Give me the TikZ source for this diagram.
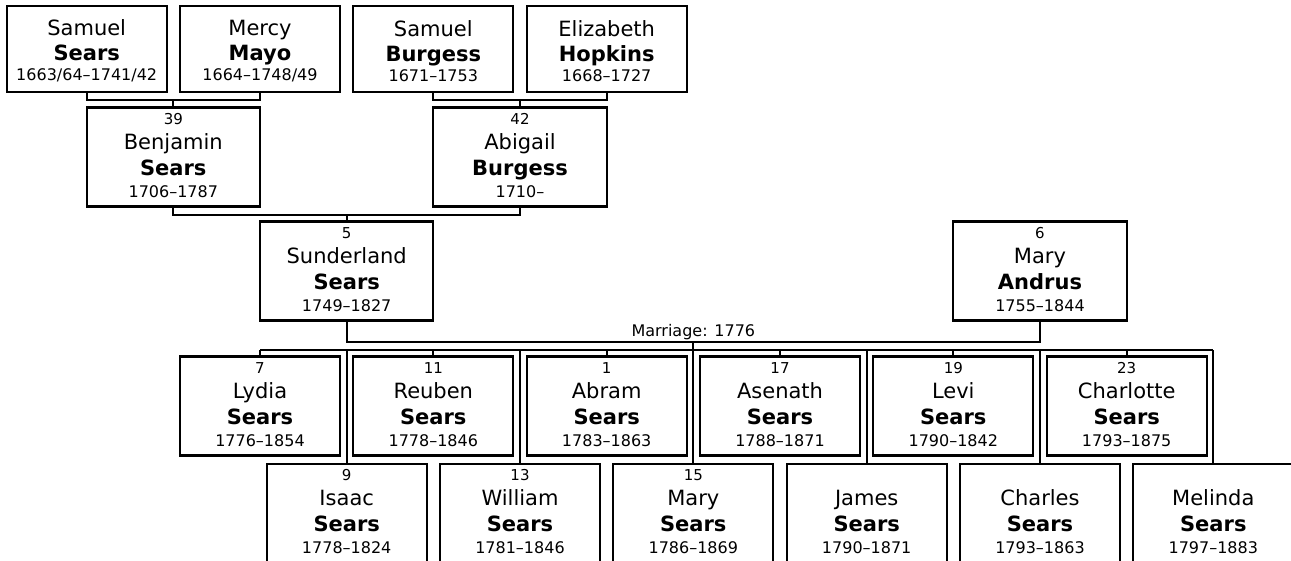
\documentclass[tikz,border=0pt]{standalone}
\usepackage{fontspec}
\setmainfont{DejaVu Sans}
\usetikzlibrary{calc}
\tikzset{
  % Two box styles for the family tree: with and without a number line
  person node/.style={draw,line width=2.2pt,inner sep=0pt,align=center,
    minimum width=160pt,minimum height=99pt,font=\fontsize{21}{25}\selectfont},
  elder node/.style={person node,minimum height=86pt},
  wide box/.style={minimum width=173.3pt},
  link/.style={line width=2.2pt},
  marriage/.style={font=\fontsize{16}{16}\selectfont,inner sep=1pt}
}
% box contents: number, first name, surname, years
\newcommand{\person}[4]{{\fontsize{15}{15}\selectfont\vphantom{0}#1}\\#2\\[1pt]\textbf{#3}\\[-3pt]{\fontsize{16}{16}\selectfont#4\rule[-4pt]{0pt}{4pt}}}
\newcommand{\elder}[3]{\rule{0pt}{20pt}#1\\\textbf{#2}\\[-5pt]{\fontsize{16}{16}\selectfont#3}}

\begin{document}
\begin{tikzpicture}[x=1pt,y=-1pt]
  \useasboundingbox (0,0) rectangle (1291,561);
  % Grandparents
  \node(ss)[elder node] at (86.7,49) {\elder{Samuel}{Sears}{1663/64–1741/42}};
  \node(mm)[elder node] at (260,49) {\elder{Mercy}{Mayo}{1664–1748/49}};
  \node(sb)[elder node] at (433.3,49) {\elder{Samuel}{Burgess}{1671–1753}};
  \node(eh)[elder node] at (606.7,49) {\elder{Elizabeth}{Hopkins}{1668–1727}};
  % Parents
  \node(39)[person node,wide box] at (173.3,157) {\person{39}{Benjamin}{Sears}{1706–1787}};
  \node(42)[person node,wide box] at (520,157) {\person{42}{Abigail}{Burgess}{1710–}};
  % The couple
  \node(5)[person node,wide box] at (346.7,271) {\person{5}{Sunderland}{Sears}{1749–1827}};
  \node(6)[person node,wide box] at (1040,271) {\person{6}{Mary}{Andrus}{1755–1844}};
  % Children, first row
  \node(7)[person node] at (260,406) {\person{7}{Lydia}{Sears}{1776–1854}};
  \node(11)[person node] at (433.3,406) {\person{11}{Reuben}{Sears}{1778–1846}};
  \node(1)[person node] at (606.7,406) {\person{1}{Abram}{Sears}{1783–1863}};
  \node(17)[person node] at (780,406) {\person{17}{Asenath}{Sears}{1788–1871}};
  \node(19)[person node] at (953.3,406) {\person{19}{Levi}{Sears}{1790–1842}};
  \node(23)[person node] at (1126.7,406) {\person{23}{Charlotte}{Sears}{1793–1875}};
  % Children, second row
  \node(9)[person node] at (346.7,513.5) {\person{9}{Isaac}{Sears}{1778–1824}};
  \node(13)[person node] at (520,513.5) {\person{13}{William}{Sears}{1781–1846}};
  \node(15)[person node] at (693.3,513.5) {\person{15}{Mary}{Sears}{1786–1869}};
  \node(james)[person node] at (866.7,513.5) {\person{}{James}{Sears}{1790–1871}};
  \node(charles)[person node] at (1040,513.5) {\person{}{Charles}{Sears}{1793–1863}};
  \node(melinda)[person node] at (1213.3,513.5) {\person{}{Melinda}{Sears}{1797–1883}};
  % Links between generations
  \draw[link] (ss.south) -- ++(0,7) coordinate(p1) -| (mm.south);
  \draw[link] (39.north) -- (39.north |- p1);
  \draw[link] (sb.south) -- ++(0,7) coordinate(p2) -| (eh.south);
  \draw[link] (42.north) -- (42.north |- p2);
  \draw[link] (39.south) -- ++(0,7.5) coordinate(p3) -| (42.south);
  \draw[link] (5.north) -- (5.north |- p3);
  % marriage and children
  \draw[link] (5.south) -- ++(0,20.2) coordinate(m) -- (m -| 6.south)
    node[midway,above,marriage]{Marriage: 1776} -- (6.south);
  \draw[link] ($(m)!.5!(m -| 6.south)$) -- ++(0,8.6) coordinate(kids);
  \draw[link] (7.north |- kids) -- (melinda.north |- kids);
  \draw[link] (7.north) -- (7.north |- kids) (11.north) -- (11.north |- kids)
    (1.north) -- (1.north |- kids) (17.north) -- (17.north |- kids)
    (19.north) -- (19.north |- kids) (23.north) -- (23.north |- kids)
    (9.north) -- (9.north |- kids) (13.north) -- (13.north |- kids)
    (15.north) -- (15.north |- kids) (james.north) -- (james.north |- kids)
    (charles.north) -- (charles.north |- kids) (melinda.north) -- (melinda.north |- kids);
\end{tikzpicture}
\end{document}
